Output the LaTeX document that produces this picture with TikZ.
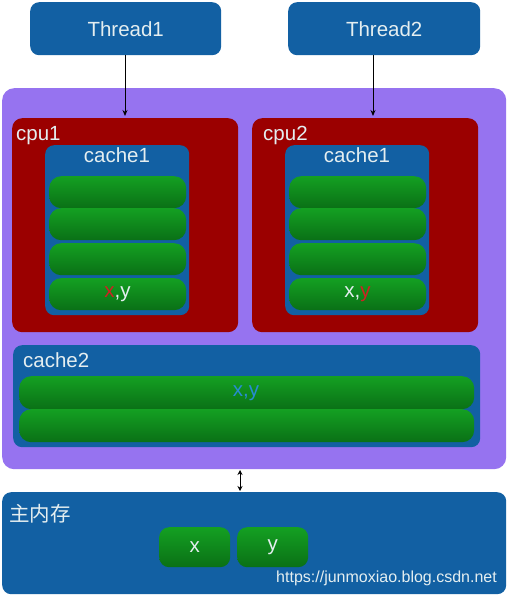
\documentclass[tikz,border=0pt]{standalone}
\usepackage{fontspec}
\setmainfont{Liberation Sans}
\newfontfamily\cjk{Noto Sans CJK SC}
\usetikzlibrary{arrows.meta}
\definecolor{purp}{RGB}{150,115,240}
\definecolor{bluebox}{RGB}{18,96,163}
\definecolor{redbox}{RGB}{155,0,0}
\definecolor{gtop}{RGB}{20,160,34}
\definecolor{gbot}{RGB}{10,112,22}
\definecolor{txt}{RGB}{228,238,240}
\definecolor{redtxt}{RGB}{205,35,35}
\definecolor{bluetxt}{RGB}{40,140,210}
\tikzset{
  x=1pt,y=-1pt,
  bigfont/.style={font=\fontsize{20.5}{20.5}\selectfont},
  boxbase/.style={inner sep=0pt,anchor=north west,draw=none},
  bluerect/.style={boxbase,fill=bluebox,rounded corners=9pt},
  outerbox/.style={boxbase,fill=purp,rounded corners=12pt},
  cpubox/.style={boxbase,fill=redbox,rounded corners=10pt},
  cachebox/.style={boxbase,fill=bluebox,rounded corners=9pt},
  greenrow/.style={boxbase,top color=gtop,bottom color=gbot,rounded corners=12pt},
  txtnode/.style={inner sep=0pt,text=txt,bigfont},
  lbl/.style={txtnode,anchor=base west},
  arr/.style={-{Stealth[length=6pt,width=5pt]},line width=0.9pt,black},
}
\begin{document}
\begin{tikzpicture}
\useasboundingbox (0,0) rectangle (507,596);
% threads
\node[bluerect,minimum width=191pt,minimum height=53pt] (t1) at (30,2) {};
\node[txtnode] (t1l) at (t1.center) {Thread1};
\node[bluerect,minimum width=192pt,minimum height=53pt] (t2) at (288,2) {};
\node[txtnode] (t2l) at (t2.center) {Thread2};
% outer
\node[outerbox,minimum width=504pt,minimum height=381pt] (outer) at (2,88) {};
% cpus
\node[cpubox,minimum width=226pt,minimum height=214pt] (cpu1) at (12,118) {};
\node[cpubox,minimum width=226pt,minimum height=214pt] (cpu2) at (252,118) {};
\node[lbl] (cpu1l) at (16,141) {cpu1};
\node[lbl] (cpu2l) at (263,141) {cpu2};
% cache1 boxes
\node[cachebox,minimum width=144pt,minimum height=170pt] (c1a) at (45,145) {};
\node[cachebox,minimum width=144pt,minimum height=170pt] (c1b) at (285,145) {};
\node[txtnode,anchor=base] (c1al) at (117,162) {cache1};
\node[txtnode,anchor=base] (c1bl) at (357,162) {cache1};
% rows left
\node[greenrow,minimum width=137pt,minimum height=32pt] (la) at (49,176) {};
\node[greenrow,minimum width=137pt,minimum height=32pt] (lb) at (49,208) {};
\node[greenrow,minimum width=137pt,minimum height=32pt] (lc) at (49,243) {};
\node[greenrow,minimum width=137pt,minimum height=32pt] (ld) at (49,278) {};
\node[txtnode] (ldt) at (117.5,294) {\textcolor{redtxt}{x},y};
% rows right
\node[greenrow,minimum width=137pt,minimum height=32pt] (ra) at (289,176) {};
\node[greenrow,minimum width=137pt,minimum height=32pt] (rb) at (289,208) {};
\node[greenrow,minimum width=137pt,minimum height=32pt] (rc) at (289,243) {};
\node[greenrow,minimum width=137pt,minimum height=32pt] (rd) at (289,278) {};
\node[txtnode] (rdt) at (357.5,294) {x,\textcolor{redtxt}{y}};
% cache2
\node[cachebox,minimum width=467pt,minimum height=102pt] (c2) at (13,345) {};
\node[lbl] (c2l) at (23,367) {cache2};
\node[greenrow,minimum width=455pt,minimum height=33pt] (c2a) at (19,376) {};
\node[greenrow,minimum width=455pt,minimum height=33pt] (c2b) at (19,409) {};
\node[txtnode,text=bluetxt] (c2t) at (246,393) {x,y};
% main memory
\node[bluerect,minimum width=504pt,minimum height=102pt] (mem) at (2,492) {};
\node[lbl,font=\cjk\fontsize{20.5}{20.5}\selectfont] (meml) at (9,521) {主内存};
\node[greenrow,rounded corners=10pt,minimum width=71pt,minimum height=40pt] (mx) at (159,527) {};
\node[greenrow,rounded corners=10pt,minimum width=71pt,minimum height=40pt] (my) at (237,527) {};
\node[txtnode] (mxl) at (mx.center) {x};
\node[txtnode] (myl) at (my.center) {y};
\node[anchor=base east,inner sep=0pt,text=txt,font=\fontsize{16}{16}\selectfont] (url) at (497,582) {https://junmoxiao.blog.csdn.net};
% arrows
\coordinate (a1e) at (125,116);
\coordinate (a2e) at (373,116);
\draw[arr] (t1.south -| a1e) -- (a1e);
\draw[arr] (t2.south -| a2e) -- (a2e);
\coordinate (m1) at (240,470);
\coordinate (m2) at (240,491);
\draw[{Stealth[length=5pt,width=5pt]}-{Stealth[length=5pt,width=5pt]},line width=0.9pt] (m1) -- (m2);
\end{tikzpicture}
\end{document}
